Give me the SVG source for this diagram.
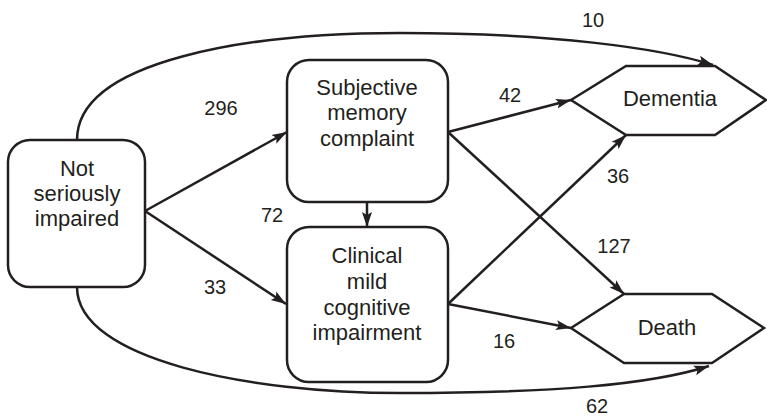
<svg xmlns="http://www.w3.org/2000/svg" width="767" height="418" viewBox="0 0 767 418">
<style>
.node{fill:#fff;stroke:#231f20;stroke-width:2.5}
.t{font-family:"Liberation Sans",Arial,sans-serif;font-size:22px;fill:#231f20;text-anchor:middle}
.n{font-family:"Liberation Sans",Arial,sans-serif;font-size:20px;fill:#231f20;text-anchor:middle}
.e{fill:none;stroke:#231f20;stroke-width:2.5}
</style>
<defs>
<marker id="ah" markerUnits="userSpaceOnUse" markerWidth="16" markerHeight="12" viewBox="0 0 16 12" refX="15" refY="6" orient="auto">
<path d="M0,1 L15,6 L0,11 L3,6 Z" fill="#231f20"/>
</marker>
</defs>
<g id="connectors">
<path class="e" d="M77,140 C77,60 250,33 400,33 S660,48 713,65" marker-end="url(#ah)"/>
<path class="e" d="M77,287 C77,360 250,393 400,393 S650,385 709,366" marker-end="url(#ah)"/>
<path class="e" d="M145,211 L287,132" marker-end="url(#ah)"/>
<path class="e" d="M145,211 L286,304" marker-end="url(#ah)"/>
<path class="e" d="M367,202 L367,227" marker-end="url(#ah)"/>
<path class="e" d="M448,132 L571,100" marker-end="url(#ah)"/>
<path class="e" d="M448,132 L624,294" marker-end="url(#ah)"/>
<path class="e" d="M448,304 L626,135" marker-end="url(#ah)"/>
<path class="e" d="M448,304 L571,328" marker-end="url(#ah)"/>
</g>
<g id="nsi">
<rect class="node" x="8" y="140" width="137" height="147" rx="22"/>
<text class="t" x="77" y="176">Not</text>
<text class="t" x="77" y="201">seriously</text>
<text class="t" x="77" y="226">impaired</text>
</g>
<g id="smc">
<rect class="node" x="287" y="60" width="161" height="142" rx="22"/>
<text class="t" x="367" y="95">Subjective</text>
<text class="t" x="367" y="120">memory</text>
<text class="t" x="367" y="146">complaint</text>
</g>
<g id="cmci">
<rect class="node" x="287" y="227" width="161" height="155" rx="22"/>
<text class="t" x="367" y="263">Clinical</text>
<text class="t" x="367" y="289">mild</text>
<text class="t" x="367" y="315">cognitive</text>
<text class="t" x="367" y="340">impairment</text>
</g>
<g id="dementia">
<polygon class="node" points="571,100 626,66 715,66 766,100 715,135 626,135"/>
<text class="t" x="670" y="106">Dementia</text>
</g>
<g id="death">
<polygon class="node" points="571,328 624,294 712,294 764,328 712,363 624,363"/>
<text class="t" x="667" y="335">Death</text>
</g>
<g id="labels">
<text class="n" x="593" y="27">10</text>
<text class="n" x="221" y="115">296</text>
<text class="n" x="272" y="222">72</text>
<text class="n" x="215" y="294">33</text>
<text class="n" x="510" y="102">42</text>
<text class="n" x="618" y="183">36</text>
<text class="n" x="614" y="253">127</text>
<text class="n" x="504" y="348">16</text>
<text class="n" x="597" y="413">62</text>
</g>
</svg>
